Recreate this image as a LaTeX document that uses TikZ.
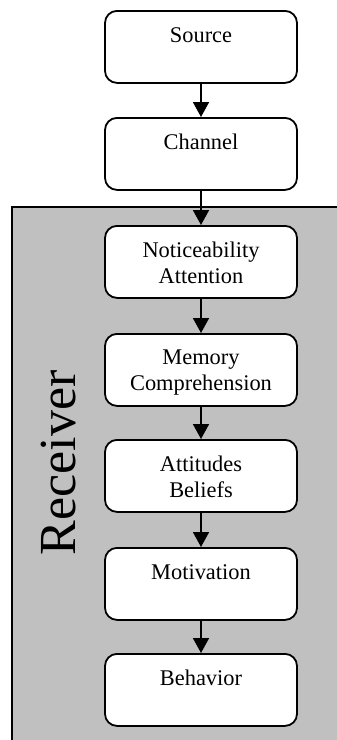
\documentclass[tikz,border=0pt]{standalone}
\usepackage{fontspec}
\setmainfont{Liberation Serif}
\usetikzlibrary{arrows.meta}
\definecolor{recgray}{HTML}{C0C0C0}
\begin{document}
\begin{tikzpicture}[x=1pt,y=-1pt,
  stepbox/.style={draw=black, line width=1.8pt, rounded corners=12pt, fill=white,
    minimum width=192pt, minimum height=72pt, inner sep=0pt, anchor=north},
  steptext/.style={anchor=north, inner sep=0pt, yshift=-17pt, align=center,
    font=\fontsize{22.4}{26}\selectfont},
  arr/.style={line width=1.8pt, -{Triangle[width=16pt,length=15pt]}}]
\useasboundingbox (0,0) rectangle (337,740);
\fill[recgray] (12,207) rectangle (340,742);
\draw[line width=1.8pt] (12,742) -- (12,207) -- (340,207);
\node[stepbox] (src) at (201,10) {};
\node[stepbox] (chn) at (201,117) {};
\node[stepbox] (att) at (201,225) {};
\node[stepbox] (mem) at (201,333) {};
\node[stepbox] (bel) at (201,439) {};
\node[stepbox] (mot) at (201,547) {};
\node[stepbox] (beh) at (201,653) {};
\node[steptext] (srct) at (src.north) {Source};
\node[steptext] (chnt) at (chn.north) {Channel};
\node[steptext] (attt) at (att.north) {Noticeability\\Attention};
\node[steptext] (memt) at (mem.north) {Memory\\Comprehension};
\node[steptext] (belt) at (bel.north) {Attitudes\\Beliefs};
\node[steptext] (mott) at (mot.north) {Motivation};
\node[steptext] (beht) at (beh.north) {Behavior};
\node[rotate=90, font=\fontsize{52}{60}\selectfont, inner sep=0pt] (rec) at (59,463) {Receiver};
\draw[arr] (src.south) -- (chn.north);
\draw[arr] (chn.south) -- (att.north);
\draw[arr] (att.south) -- (mem.north);
\draw[arr] (mem.south) -- (bel.north);
\draw[arr] (bel.south) -- (mot.north);
\draw[arr] (mot.south) -- (beh.north);
\end{tikzpicture}
\end{document}
